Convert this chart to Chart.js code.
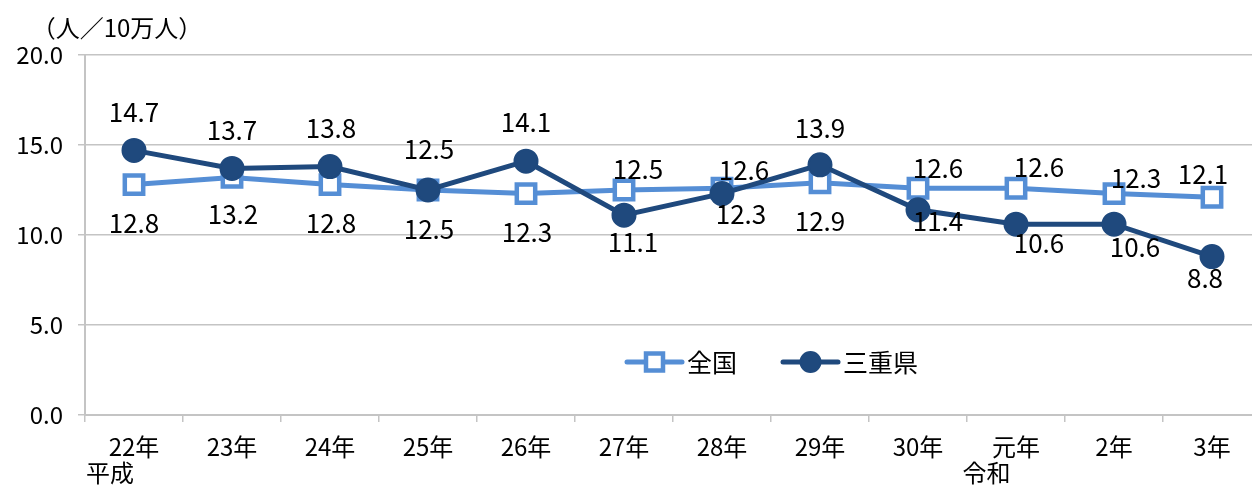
<!DOCTYPE html>
<html><head><meta charset="utf-8">
<script src="https://cdn.jsdelivr.net/npm/chart.js@4/dist/chart.umd.min.js"></script>
<style>
html,body{margin:0;padding:0;overflow:hidden;background:#fff;width:1252px;height:485px}
#wrap{width:1264px;height:485px;position:relative}
canvas{display:block}
</style></head>
<body><div id="wrap"><canvas id="c" width="1264" height="485" style="width:1264px;height:485px"></canvas></div>
<script>
// ---- data ----
const categories = [["22年","平成\u3000\u3000"], "23年", "24年", "25年", "26年", "27年", "28年", "29年", "30年", ["元年","令和\u3000\u3000  "], "2年", "3年"];
const seriesNames = ["全国", "三重県"];
const nationalValues = [12.8, 13.2, 12.8, 12.5, 12.3, 12.5, 12.6, 12.9, 12.6, 12.6, 12.3, 12.1];
const mieValues = [14.7, 13.7, 13.8, 12.5, 14.1, 11.1, 12.3, 13.9, 11.4, 10.6, 10.6, 8.8];
const yTickValues = [0, 5, 10, 15, 20];
const unitLabel = "（人／10万人）";

// ---- label placement (styling only: offsets from each point, px) ----
const nationalLabelOffsets = [[0,39],[1,37],[1,39],[1,39],[1,39],[14,-21],[22,-18],[0,38],[20,-20],[23,-21],[22,-15],[-9,-23]];
const mieLabelOffsets = [[0,-38],[0,-38],[1,-38],[1,-41],[0,-39],[9,27],[19,21],[0,-37],[20,11],[23,19],[21,23],[-7,22]];

const FONT = '"Noto Sans CJK JP", "Noto Sans", sans-serif';
const C_NAT = '#558ED5';
const C_MIE = '#1F497D';
const GRID = '#c4c4c4';

const labelPlugin = {
  id: 'valueLabels',
  afterDatasetsDraw(chart) {
    const ctx = chart.ctx;
    ctx.save();
    ctx.font = '26px ' + FONT;
    ctx.fillStyle = '#000';
    ctx.textAlign = 'center';
    ctx.textBaseline = 'middle';
    const offs = [nationalLabelOffsets, mieLabelOffsets];
    chart.data.datasets.forEach((ds, di) => {
      const meta = chart.getDatasetMeta(di);
      meta.data.forEach((pt, i) => {
        const o = offs[di][i];
        ctx.fillText(ds.data[i].toFixed(1), pt.x + o[0], pt.y + o[1]);
      });
    });
    ctx.restore();
  }
};

const extrasPlugin = {
  id: 'extras',
  afterDraw(chart) {
    const ctx = chart.ctx;
    const a = chart.chartArea;
    ctx.save();
    // unit label
    ctx.font = '24px ' + FONT;
    ctx.fillStyle = '#000';
    ctx.textAlign = 'center';
    ctx.textBaseline = 'middle';
    ctx.fillText(unitLabel, a.left + 32, a.top - 27);
    // legend
    const items = [
      {x: a.left + 542, ds: chart.data.datasets[0]},
      {x: a.left + 698, ds: chart.data.datasets[1]}
    ];
    const y = 362;
    items.forEach(it => {
      const ds = it.ds;
      ctx.strokeStyle = ds.borderColor;
      ctx.lineWidth = ds.borderWidth;
      ctx.lineCap = 'round';
      ctx.beginPath();
      ctx.moveTo(it.x, y);
      ctx.lineTo(it.x + 55, y);
      ctx.stroke();
      ctx.fillStyle = ds.pointBackgroundColor;
      ctx.strokeStyle = ds.pointBorderColor;
      ctx.lineWidth = ds.pointBorderWidth;
      ctx.beginPath();
      if (ds.pointStyle === 'rect') {
        ctx.rect(it.x + 27.5 - 8.5, y - 8.5, 17, 17);
      } else {
        ctx.arc(it.x + 27.5, y, 10, 0, Math.PI * 2);
      }
      ctx.fill();
      ctx.stroke();
      ctx.fillStyle = '#000';
      ctx.font = '25px ' + FONT;
      ctx.textAlign = 'left';
      ctx.textBaseline = 'middle';
      ctx.fillText(ds.label, it.x + 60, y);
    });
    ctx.restore();
  }
};

new Chart(document.getElementById('c'), {
  type: 'line',
  data: {
    labels: categories,
    datasets: [
      {
        label: seriesNames[0],
        data: nationalValues,
        borderColor: C_NAT,
        borderWidth: 5,
        pointStyle: 'rect',
        pointRadius: 13,
        pointBorderWidth: 4.5,
        pointBackgroundColor: '#fff',
        pointBorderColor: C_NAT,
        order: 2
      },
      {
        label: seriesNames[1],
        data: mieValues,
        borderColor: C_MIE,
        borderWidth: 5,
        pointStyle: 'circle',
        pointRadius: 11.5,
        pointBorderWidth: 2,
        pointBackgroundColor: C_MIE,
        pointBorderColor: C_MIE,
        order: 1
      }
    ]
  },
  options: {
    responsive: false,
    animation: false,
    devicePixelRatio: 1,
    layout: { autoPadding: false, padding: { top: 55, right: 3, left: 0, bottom: 0 } },
    plugins: { legend: { display: false }, tooltip: { enabled: false }, title: { display: false } },
    scales: {
      x: {
        type: 'category',
        offset: true,
        grid: { drawOnChartArea: false, drawTicks: true, tickLength: 7, color: GRID, lineWidth: 1.5, offset: true },
        border: { color: GRID, width: 2 },
        ticks: {
          color: '#000',
          font: { family: FONT, size: 24, lineHeight: 1.12 },
          padding: 11,
          maxRotation: 0,
          autoSkip: false
        },
        afterFit(s) { s.height = 70; }
      },
      y: {
        min: 0,
        max: 20,
        afterBuildTicks(s) { s.ticks = yTickValues.map(v => ({ value: v })); },
        grid: { color: GRID, lineWidth: 1.5, tickLength: 7 },
        border: { color: GRID, width: 2 },
        ticks: {
          color: '#000',
          font: { family: FONT, size: 24 },
          padding: 15,
          callback: v => Number(v).toFixed(1)
        },
        afterFit(s) { s.width = 85; }
      }
    }
  },
  plugins: [labelPlugin, extrasPlugin]
});
</script>
</body></html>
